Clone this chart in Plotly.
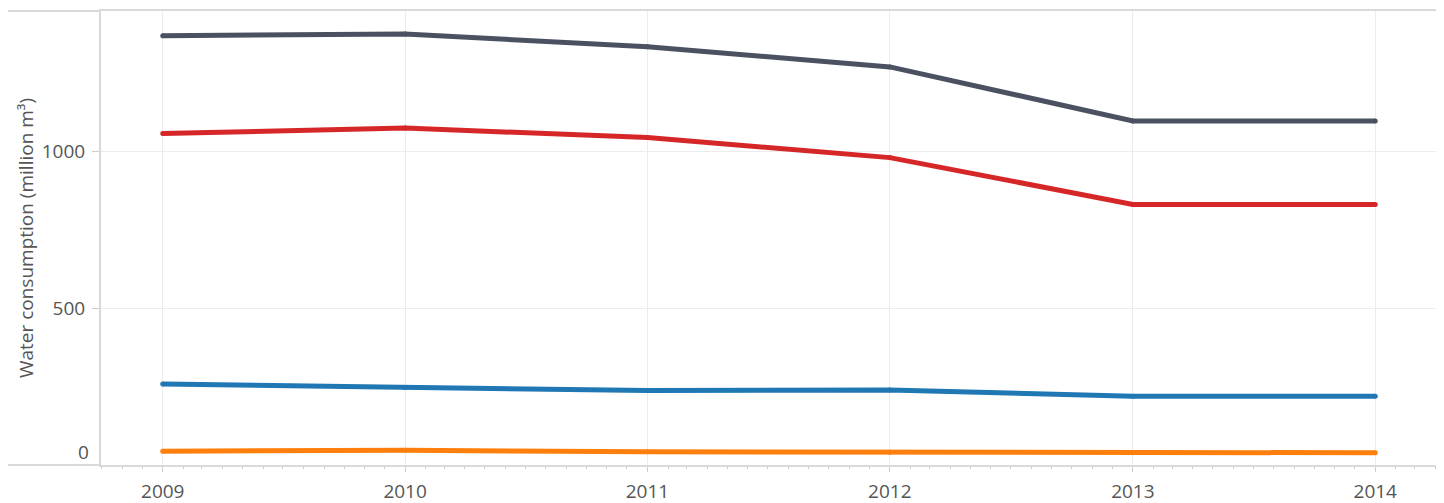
import plotly.graph_objects as go

years = ["2009-01-01", "2010-01-01", "2011-01-01", "2012-01-01", "2013-01-01", "2014-01-01"]
year_labels = ["2009", "2010", "2011", "2012", "2013", "2014"]

series_gray = [1367, 1373, 1332, 1268, 1096, 1096]
series_red = [1056, 1073, 1043, 979, 830, 830]
series_blue = [258, 247, 237, 239, 219, 219]
series_orange = [44, 47, 42, 41, 39, 39]

series = [
    ("Total", series_gray, "#4a5261"),
    ("Series 2", series_red, "#d62728"),
    ("Series 3", series_blue, "#1f77b4"),
    ("Series 4", series_orange, "#ff7f0e"),
]

y_ticks = [0, 500, 1000]
y_ticktext = ["", "500", "1000"]

fig = go.Figure()
for name, vals, col in series:
    fig.add_trace(go.Scatter(
        x=years, y=vals, name=name, mode="lines+markers",
        line=dict(color=col, width=5),
        marker=dict(color=col, size=5),
        showlegend=False,
    ))

grid = "#ececec"
border = "#d9d9d9"
tickfont = dict(family="Open Sans", size=19, color="#555555")
fig.update_layout(
    width=1436, height=495,
    margin=dict(l=93, r=7, t=3, b=38, autoexpand=False),
    paper_bgcolor="white", plot_bgcolor="white",
    font=dict(family="Open Sans", size=16, color="#555555"),
    xaxis=dict(
        type="date", range=["2008-09-30", "2014-04-04"],
        tickvals=years, ticktext=year_labels, tickfont=tickfont,
        ticklabelstandoff=3, automargin=False,
        showgrid=True, gridcolor=grid, gridwidth=1,
        ticks="outside", ticklen=5, tickcolor="#cccccc",
        minor=dict(dtick="M1", ticks="outside", ticklen=2, tickcolor="#cccccc", showgrid=False),
        showline=True, linecolor=border, linewidth=2, mirror=True,
        zeroline=False,
    ),
    yaxis=dict(
        range=[0, 1446],
        tickvals=y_ticks, ticktext=y_ticktext, tickfont=tickfont,
        ticklabelstandoff=3, automargin=False,
        showgrid=True, gridcolor=grid, gridwidth=1,
        ticks="outside", ticklen=7, tickcolor="#cccccc",
        showline=True, linecolor=border, linewidth=2, mirror=True,
        zeroline=False,
        title=dict(text="Water consumption (million m³)", standoff=3,
                   font=dict(family="Open Sans", size=19, color="#555555")),
    ),
)

# label for zero, lifted above the bottom frame as in the reference
fig.add_annotation(
    x=0, xref="paper", xanchor="right", xshift=-10,
    y=0, yref="y", yanchor="middle", yshift=13,
    text="0", showarrow=False, font=tickfont,
)

# frame lines extending left over the axis label area
for yy in (0, 1):
    fig.add_shape(type="line", xref="paper", yref="paper",
                  x0=-0.0711, x1=0, y0=yy, y1=yy,
                  line=dict(color=border, width=2))

fig.write_html("out.html")
